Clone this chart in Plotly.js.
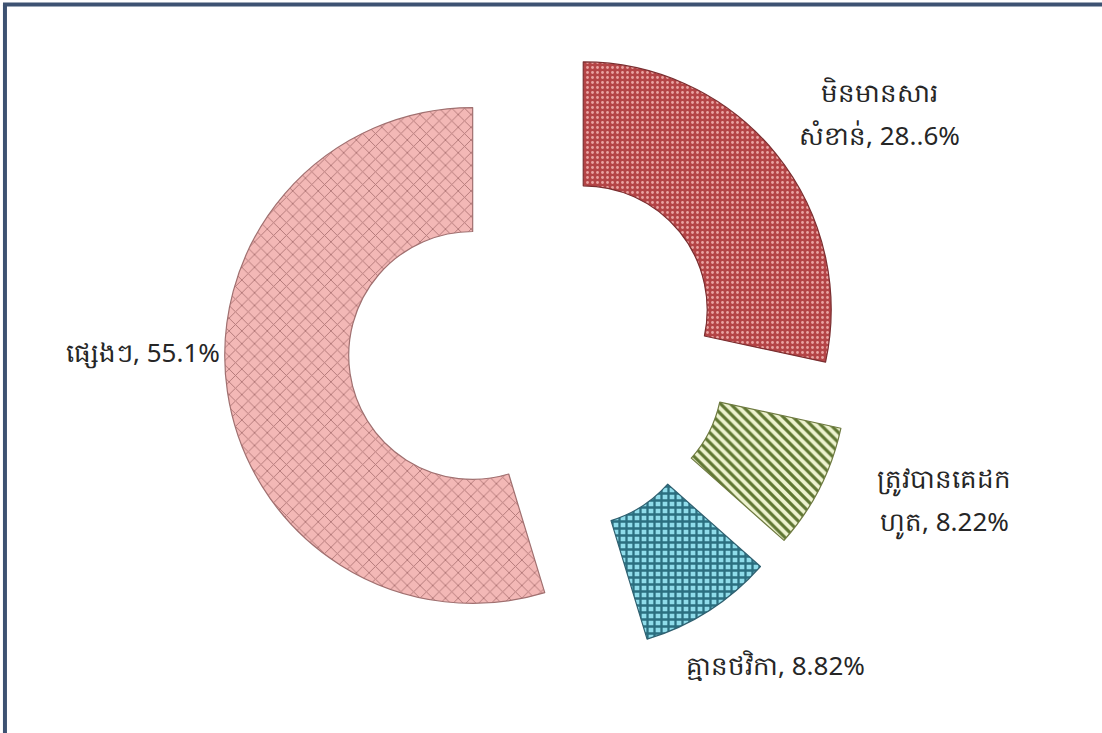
<!DOCTYPE html>
<html>
<head>
<meta charset="utf-8">
<script src="https://cdn.plot.ly/plotly-3.0.1.min.js"></script>
<style>html,body{margin:0;padding:0;background:#fff;}#chart{width:1102px;height:733px;}</style>
</head>
<body>
<div id="chart"></div>
<script>
// Data
var categories = ["មិនមានសារ<br>សំខាន់", "ត្រូវបានគេដក<br>ហូត", "គ្មានថវិកា", "ផ្សេងៗ"];
var values = [28.6, 8.22, 8.82, 55.1];
var valueLabels = ["28..6%", "8.22%", "8.82%", "55.1%"];

var texts = categories.map(function (c, i) { return c + ", " + valueLabels[i]; });

var labelFont = { family: "Noto Sans, DejaVu Sans, sans-serif", size: 26, color: "#262626" };

var trace = {
  type: "pie",
  labels: categories,
  values: values,
  text: texts,
  textinfo: "none",
  hole: 0.5,
  sort: false,
  direction: "clockwise",
  rotation: 0,
  pull: [0.23, 0.27, 0.27, 0.27],
  showlegend: false,
  hoverinfo: "none",
  domain: { x: [0.2033, 0.7747], y: [0.0985, 0.9585] },
  marker: {
    colors: ["#b44446", "#eef3cf", "#8fdcea", "#f3b8b6"],
    line: { color: ["#7a2e30", "#6e7a40", "#2f6070", "#a07070"], width: 1.2 },
    pattern: {
      shape: [".", "\\", "+", "x"],
      bgcolor: ["#b44446", "#eef3cf", "#8fdcea", "#f3b8b6"],
      fgcolor: ["#e9a4a2", "#5f7632", "#2b6f80", "#b27878"],
      fillmode: "replace",
      size: [5, 7, 7, 9],
      solidity: [0.25, 0.45, 0.55, 0.2]
    }
  }
};

// label placement (pixel centre of first line) for each category's text
var labelPos = [
  { x: 880, y: 92, xanchor: "center" },
  { x: 944, y: 478, xanchor: "center" },
  { x: 775, y: 665, xanchor: "center" },
  { x: 222, y: 352, xanchor: "right" }
];
var lineGap = 43;
var W = 1102, H = 733;

var annotations = [];
texts.forEach(function (t, i) {
  t.split("<br>").forEach(function (line, k) {
    annotations.push({
      xref: "paper", yref: "paper",
      x: labelPos[i].x / W, y: 1 - (labelPos[i].y + k * lineGap) / H,
      xanchor: labelPos[i].xanchor, yanchor: "middle",
      text: line, showarrow: false, font: labelFont
    });
  });
});

var layout = {
  width: W,
  height: H,
  margin: { l: 0, r: 0, t: 0, b: 0 },
  paper_bgcolor: "#ffffff",
  plot_bgcolor: "#ffffff",
  showlegend: false,
  annotations: annotations,
  shapes: [
    { type: "line", xref: "paper", yref: "paper", x0: 0.0045, x1: 0.0045, y0: -0.05, y1: 0.994, line: { color: "#3d5272", width: 4 } },
    { type: "line", xref: "paper", yref: "paper", x0: 0.0027, x1: 1.05, y0: 0.994, y1: 0.994, line: { color: "#3d5272", width: 4 } }
  ]
};

Plotly.newPlot("chart", [trace], layout, { displayModeBar: false, staticPlot: true });
</script>
</body>
</html>
